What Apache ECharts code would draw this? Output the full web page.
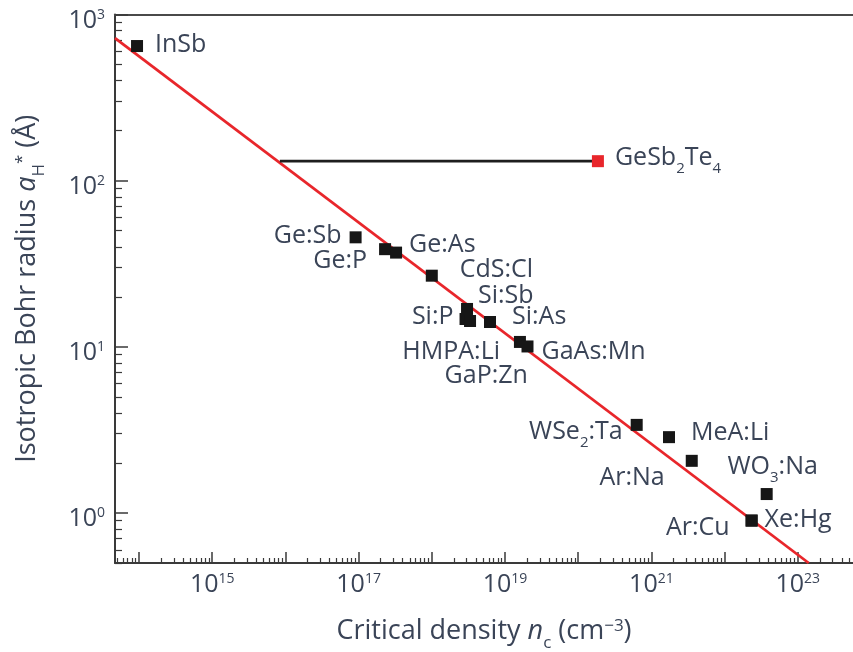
<!DOCTYPE html>
<html>
<head>
<meta charset="utf-8">
<script src="https://cdn.jsdelivr.net/npm/echarts@6/dist/echarts.min.js"></script>
<style>
  html, body { margin: 0; padding: 0; background: #fff; }
  #chart { width: 853px; height: 652px; }
</style>
</head>
<body>
<div id="chart"></div>
<script>
// Critical density n_c versus isotropic Bohr radius a_H* for doped systems,
// with the Mott line and the GeSb2Te4 point.

const materials = ['InSb', 'Ge:Sb', 'Ge:P', 'Ge:As', 'CdS:Cl', 'Si:Sb', 'Si:P', 'HMPA:Li', 'Si:As',
  'GaP:Zn', 'GaAs:Mn', 'WSe2:Ta', 'MeA:Li', 'Ar:Na', 'WO3:Na', 'Xe:Hg', 'Ar:Cu'];
const criticalDensity = [9.4e13, 9.1e16, 2.3e17, 3.25e17, 1.0e18, 3.03e18, 2.89e18, 3.33e18, 6.24e18,
  1.6e19, 2.03e19, 6.3e20, 1.74e21, 3.56e21, 3.76e22, 2.34e22, 2.34e22];
const bohrRadius = [646, 45.6, 38.7, 36.9, 26.8, 16.9, 14.7, 14.3, 14.1,
  10.7, 10.05, 3.39, 2.86, 2.06, 1.30, 0.90, 0.90];

const gstName = 'GeSb2Te4';
const gstDensity = 1.86e20;
const gstRadius = 131;
const gstBarDensity = [8.4e15, 1.86e20];

const mottDensity = [4.7e13, 1.41e23];
const mottRadius = [720, 0.5];

const xRange = [4.7e13, 5.68e23];
const yRange = [0.5, 1000];
const xLabelExponents = [15, 17, 19, 21, 23];
const yLabelExponents = [0, 1, 2, 3];

// label anchor per material: text alignment and offset from the marker centre
const labelPlacement = {
  'InSb':    ['left', 18, 0],
  'Ge:Sb':   ['right', -14, 0],
  'Ge:P':    ['right', -18, 13],
  'Ge:As':   ['left', 13, -7],
  'CdS:Cl':  ['left', 28, -5],
  'Si:Sb':   ['left', 11, -12],
  'Si:P':    ['right', -12, -1],
  'HMPA:Li': ['right', 30, 32],
  'Si:As':   ['left', 22, -4],
  'GaP:Zn':  ['right', 8, 35],
  'GaAs:Mn': ['left', 14, 6],
  'WSe2:Ta': ['right', -14, 8],
  'MeA:Li':  ['left', 22, -3],
  'Ar:Na':   ['right', -27, 18],
  'WO3:Na':  ['center', 6, -26],
  'Xe:Hg':   ['left', 13, 0],
  'Ar:Cu':   ['right', -22, 8],
  'GeSb2Te4': ['left', 17, -2]
};

const TEXT = '#3a4457';
const FONT = 'Open Sans';
const log10 = Math.log10;

// main text hangs from the top of a 31px line, subscripts drop to its bottom
const richText = {
  t:   { fontSize: 25, lineHeight: 31, verticalAlign: 'top', color: TEXT, fontFamily: FONT },
  sub: { fontSize: 15, lineHeight: 31, verticalAlign: 'bottom', color: TEXT, fontFamily: FONT }
};

// turn chemical formula digits into subscripts
function formulaRich(name) {
  return name.split(/(\d+)/).filter(s => s.length).map(s =>
    /^\d+$/.test(s) ? '{sub|' + s + '}' : '{t|' + s + '}').join('');
}

function makeLabel(name) {
  const p = labelPlacement[name];
  return {
    show: true,
    position: 'inside',
    align: p[0],
    verticalAlign: 'middle',
    offset: [p[1], p[2] + 2],
    formatter: formulaRich(name),
    rich: richText
  };
}

const points = materials.map((m, i) => ({
  name: m,
  value: [criticalDensity[i], bohrRadius[i]],
  label: makeLabel(m)
}));

// minor tick positions (in decades) for the log-scaled axes
function minorDecades(lo, hi) {
  const out = [];
  for (let n = Math.floor(lo); n <= Math.ceil(hi); n++) {
    for (let k = 2; k <= 9; k++) {
      const v = n + log10(k);
      if (v > lo && v < hi) out.push(v);
    }
  }
  return out;
}
function majorDecades(lo, hi) {
  const out = [];
  for (let n = Math.ceil(lo); n <= Math.floor(hi); n++) out.push(n);
  return out;
}

const xLo = log10(xRange[0]), xHi = log10(xRange[1]);
const yLo = log10(yRange[0]), yHi = log10(yRange[1]);

const AXIS = '#3a3a3a';
const powRich = {
  b: { fontSize: 25, lineHeight: 28, verticalAlign: 'top', color: TEXT, fontFamily: FONT },
  s: { fontSize: 14, lineHeight: 14, verticalAlign: 'top', color: TEXT, fontFamily: FONT }
};
const powFormatter = v => '{b|10}{s|' + Math.round(v) + '}';

const hidden = {
  axisLine: { show: false, onZero: false }, axisTick: { show: false },
  axisLabel: { show: false }, splitLine: { show: false }
};

const titleRich = {
  t:   { fontSize: 27, lineHeight: 34, verticalAlign: 'top', color: TEXT, fontFamily: FONT },
  i:   { fontSize: 27, lineHeight: 34, verticalAlign: 'top', color: TEXT, fontFamily: FONT, fontStyle: 'italic' },
  sub: { fontSize: 17, lineHeight: 34, verticalAlign: 'bottom', color: TEXT, fontFamily: FONT },
  sup: { fontSize: 17, lineHeight: 18, verticalAlign: 'top', color: TEXT, fontFamily: FONT }
};

const chart = echarts.init(document.getElementById('chart'), null, { renderer: 'canvas' });
chart.setOption({
  backgroundColor: '#ffffff',
  animation: false,
  grid: { left: 115, right: 0, top: 14.5, bottom: 89, containLabel: false, outerBoundsMode: 'none' },
  xAxis: [
    Object.assign({ type: 'log', min: xRange[0], max: xRange[1], position: 'bottom' }, hidden),
    {
      type: 'value', min: xLo, max: xHi, position: 'bottom',
      axisLine: { show: true, onZero: false, lineStyle: { color: AXIS, width: 2 } },
      axisTick: { show: true, inside: true, length: 11, customValues: majorDecades(xLo, xHi),
        lineStyle: { color: AXIS, width: 1.5 } },
      axisLabel: { show: true, customValues: xLabelExponents, margin: 9,
        formatter: powFormatter, rich: powRich },
      splitLine: { show: false },
      name: '{t|Critical density }{i|n}{sub|c}{t| (cm}{sup|−3}{t|)}',
      nameLocation: 'middle', nameGap: 55,
      nameTextStyle: { rich: titleRich }
    },
    {
      type: 'value', min: xLo, max: xHi, position: 'bottom',
      axisLine: { show: false, onZero: false },
      axisTick: { show: true, inside: true, length: 5, customValues: minorDecades(xLo, xHi),
        lineStyle: { color: AXIS, width: 1.2 } },
      axisLabel: { show: false }, splitLine: { show: false }
    },
    {
      type: 'value', min: xLo, max: xHi, position: 'top',
      axisLine: { show: true, onZero: false, lineStyle: { color: '#4a4a4a', width: 2 } },
      axisTick: { show: false }, axisLabel: { show: false }, splitLine: { show: false }
    }
  ],
  yAxis: [
    Object.assign({ type: 'log', min: yRange[0], max: yRange[1], position: 'left' }, hidden),
    {
      type: 'value', min: yLo, max: yHi, position: 'left',
      axisLine: { show: true, onZero: false, lineStyle: { color: AXIS, width: 2 } },
      axisTick: { show: true, inside: true, length: 13, customValues: majorDecades(yLo, yHi),
        lineStyle: { color: AXIS, width: 1.5 } },
      axisLabel: { show: true, customValues: yLabelExponents, margin: 10,
        padding: [15, 0, 0, 0], formatter: powFormatter, rich: powRich },
      splitLine: { show: false },
      name: '{t|Isotropic Bohr radius }{i|a}{sub|H}{sup|*}{t| (Å)}',
      nameLocation: 'middle', nameGap: 67, nameRotate: 90,
      nameTextStyle: { rich: titleRich }
    },
    {
      type: 'value', min: yLo, max: yHi, position: 'left',
      axisLine: { show: false, onZero: false },
      axisTick: { show: true, inside: true, length: 7, customValues: minorDecades(yLo, yHi),
        lineStyle: { color: AXIS, width: 1.2 } },
      axisLabel: { show: false }, splitLine: { show: false }
    }
  ],
  series: [
    {
      name: 'Mott criterion',
      type: 'line', xAxisIndex: 0, yAxisIndex: 0,
      data: mottDensity.map((d, i) => [d, mottRadius[i]]),
      symbol: 'none', clip: true, z: 2,
      lineStyle: { color: '#e8262b', width: 2.8 }
    },
    {
      name: gstName + ' range',
      type: 'line', xAxisIndex: 0, yAxisIndex: 0,
      data: gstBarDensity.map(d => [d, gstRadius]),
      symbol: 'none', z: 2,
      lineStyle: { color: '#1e1e1e', width: 2.6 }
    },
    {
      name: gstName,
      type: 'scatter', xAxisIndex: 0, yAxisIndex: 0,
      symbol: 'rect', symbolSize: 12, z: 4,
      itemStyle: { color: '#e8262b', opacity: 1 },
      data: [{ name: gstName, value: [gstDensity, gstRadius], label: makeLabel(gstName) }]
    },
    {
      name: 'materials',
      type: 'scatter', xAxisIndex: 0, yAxisIndex: 0,
      symbol: 'rect', symbolSize: 12, z: 4,
      itemStyle: { color: '#161616', opacity: 1 },
      data: points
    }
  ]
});
</script>
</body>
</html>
